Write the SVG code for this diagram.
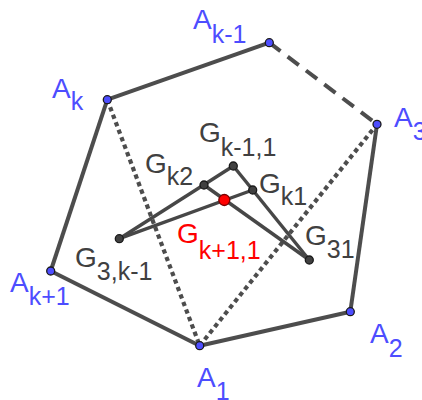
<svg xmlns="http://www.w3.org/2000/svg" width="422" height="400" viewBox="0 0 422 400">
<style>
.seg{stroke:#4d4d4d;stroke-width:4;fill:none;stroke-linecap:butt}
.dash{stroke:#4d4d4d;stroke-width:4;fill:none;stroke-dasharray:14 9}
.dot{stroke:#4d4d4d;stroke-width:4.2;fill:none;stroke-dasharray:4.4 3.6}
.gseg{stroke:#474747;stroke-width:3.4;fill:none}
.pa{fill:#4d4dff;stroke:#1a1a1a;stroke-width:1.3}
.pg{fill:#404040;stroke:#1a1a1a;stroke-width:1.3}
.pr{fill:#ff0000;stroke:#7a0000;stroke-width:1.3}
text{font-family:"Liberation Sans",Arial,sans-serif;font-size:28px}
.la{fill:#4d4dff}
.lg{fill:#404040}
.lr{fill:#ff0000}
.sub{font-size:25px}
</style>
<g id="connectors">
<line class="seg" x1="107.3" y1="99.7" x2="269.3" y2="42.7"/>
<line class="dash" x1="269.3" y1="42.7" x2="377" y2="124.3"/>
<line class="seg" x1="377" y1="124.3" x2="350.3" y2="311.7"/>
<line class="seg" x1="350.3" y1="311.7" x2="199.7" y2="345.7"/>
<line class="seg" x1="199.7" y1="345.7" x2="50.7" y2="271"/>
<line class="seg" x1="50.7" y1="271" x2="107.3" y2="99.7"/>
<line class="dot" x1="107.3" y1="99.7" x2="199.7" y2="345.7"/>
<line class="dot" x1="199.7" y1="345.7" x2="377" y2="124.3"/>
<line class="gseg" x1="119.3" y1="238.7" x2="233.3" y2="166"/>
<line class="gseg" x1="233.3" y1="166" x2="309.3" y2="260"/>
<line class="gseg" x1="119.3" y1="238.7" x2="252.7" y2="190"/>
<line class="gseg" x1="204" y1="185" x2="309.3" y2="260"/>
</g>
<g id="A_k"><circle class="pa" cx="107.3" cy="99.7" r="4"/><text class="la" x="52" y="98">A<tspan class="sub" dy="12">k</tspan></text></g>
<g id="A_k-1"><circle class="pa" cx="269.3" cy="42.7" r="4"/><text class="la" x="193" y="29">A<tspan class="sub" dy="14">k-1</tspan></text></g>
<g id="A_3"><circle class="pa" cx="377" cy="124.3" r="4"/><text class="la" x="394" y="127">A<tspan class="sub" dy="13">3</tspan></text></g>
<g id="A_2"><circle class="pa" cx="350.3" cy="311.7" r="4"/><text class="la" x="370" y="343">A<tspan class="sub" dy="14">2</tspan></text></g>
<g id="A_1"><circle class="pa" cx="199.7" cy="345.7" r="4"/><text class="la" x="197" y="387">A<tspan class="sub" dy="13">1</tspan></text></g>
<g id="A_k+1"><circle class="pa" cx="50.7" cy="271" r="4"/><text class="la" x="10" y="292">A<tspan class="sub" dy="13">k+1</tspan></text></g>
<g id="G_k-1_1"><circle class="pg" cx="233.3" cy="166" r="4"/><text class="lg" x="199" y="142">G<tspan class="sub" dy="14">k-1,1</tspan></text></g>
<g id="G_k2"><circle class="pg" cx="204" cy="185" r="4"/><text class="lg" x="145" y="173">G<tspan class="sub" dy="12">k2</tspan></text></g>
<g id="G_k1"><circle class="pg" cx="252.7" cy="190" r="4"/><text class="lg" x="259" y="193">G<tspan class="sub" dy="12">k1</tspan></text></g>
<g id="G_31"><circle class="pg" cx="309.3" cy="260" r="4"/><text class="lg" x="305" y="245">G<tspan class="sub" dy="13">31</tspan></text></g>
<g id="G_3_k-1"><circle class="pg" cx="119.3" cy="238.7" r="4"/><text class="lg" x="75" y="267">G<tspan class="sub" dy="13">3,k-1</tspan></text></g>
<g id="G_k+1_1"><circle class="pr" cx="224.3" cy="200" r="5.5"/><text class="lr" x="177" y="243">G<tspan class="sub" dy="16">k+1,1</tspan></text></g>
</svg>
